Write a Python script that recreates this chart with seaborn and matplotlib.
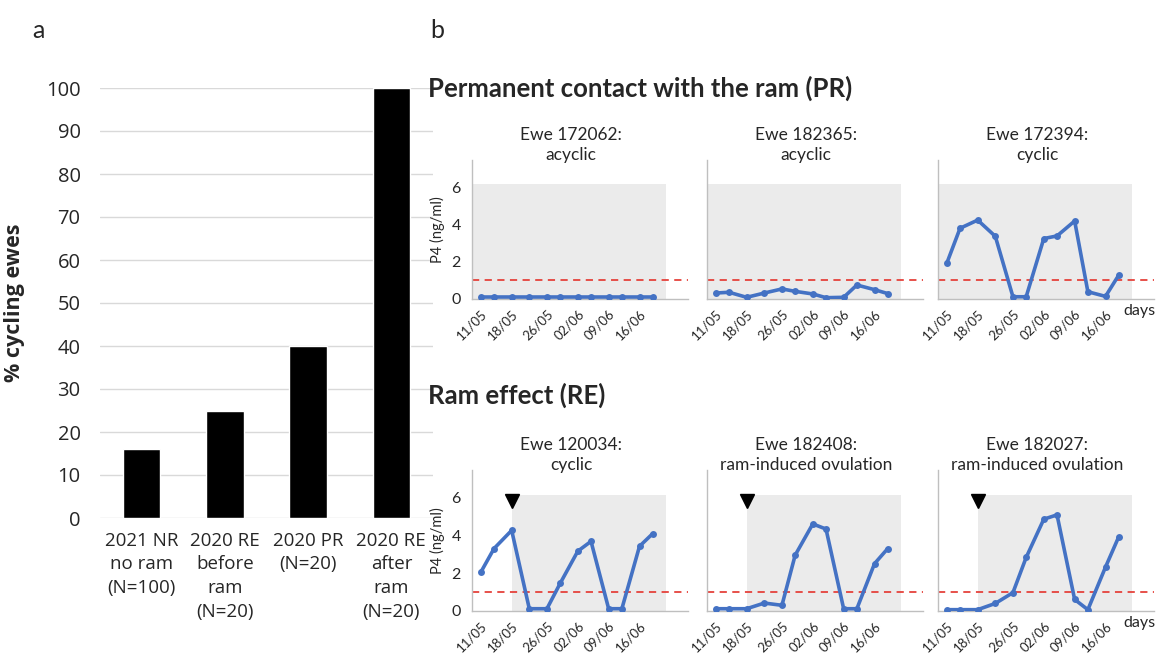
import pandas as pd
import matplotlib.pyplot as plt
import matplotlib.dates as mdates
import seaborn as sns

# ---------------- panel a data ----------------
groups = ["2021 NR\nno ram\n(N=100)", "2020 RE\nbefore\nram\n(N=20)",
          "2020 PR\n(N=20)", "2020 RE\nafter\nram\n(N=20)"]
pct_cycling = [16, 25, 40, 100]

# ---------------- panel b data ----------------
sample_dates = ["2020-05-11", "2020-05-14", "2020-05-18", "2020-05-22",
                "2020-05-26", "2020-05-29", "2020-06-02", "2020-06-05",
                "2020-06-09", "2020-06-12", "2020-06-16", "2020-06-19"]
tick_dates = ["2020-05-11", "2020-05-18", "2020-05-26",
              "2020-06-02", "2020-06-09", "2020-06-16"]

ewe_ids = ["172062", "182365", "172394", "120034", "182408", "182027"]
ewe_status = ["acyclic", "acyclic", "cyclic",
              "cyclic", "ram-induced ovulation", "ram-induced ovulation"]

p4_172062 = [0.10, 0.10, 0.10, 0.10, 0.10, 0.10, 0.10, 0.10, 0.10, 0.10, 0.10, 0.10]
p4_182365 = [0.32, 0.36, 0.09, 0.32, 0.54, 0.41, 0.27, 0.07, 0.09, 0.75, 0.50, 0.29]
p4_172394 = [1.92, 3.79, 4.23, 3.36, 0.12, 0.12, 3.24, 3.38, 4.18, 0.39, 0.14, 1.28]
p4_120034 = [2.05, 3.30, 4.26, 0.12, 0.12, 1.46, 3.16, 3.68, 0.12, 0.12, 3.42, 4.09]
p4_182408 = [0.12, 0.12, 0.12, 0.42, 0.30, 2.95, 4.60, 4.33, 0.12, 0.12, 2.50, 3.30]
p4_182027 = [0.07, 0.07, 0.07, 0.40, 0.97, 2.83, 4.85, 5.08, 0.61, 0.07, 2.32, 3.92]
p4_series = [p4_172062, p4_182365, p4_172394, p4_120034, p4_182408, p4_182027]

threshold = 1.0          # cyclicity threshold, ng/ml
shade_top = 6.15
study_start = "2020-05-09"
ram_intro = "2020-05-18"
study_end = "2020-06-22"
axis_end = "2020-06-27"

sns.set_style("white")
plt.rcParams["font.family"] = ["Lato", "DejaVu Sans"]
sans_a = ["Open Sans", "DejaVu Sans"]

W, H = 1157, 655
fig = plt.figure(figsize=(W / 100, H / 100), dpi=100)


def px_axes(left, top, right, bottom):
    return fig.add_axes([left / W, 1 - bottom / H, (right - left) / W, (bottom - top) / H])


# =====================================================================
# Panel a: % cycling ewes
# =====================================================================
ax = px_axes(100, 88, 433, 518)
sns.barplot(x=groups, y=pct_cycling, color="black", saturation=1, width=0.45, ax=ax)
ax.set_ylim(0, 100)
ax.set_yticks(range(0, 101, 10))
ax.grid(axis="y", color="#d9d9d9", lw=1)
ax.set_axisbelow(True)
sns.despine(ax=ax, left=True, bottom=True)
ax.tick_params(axis="y", length=0, labelsize=14.5, pad=14)
ax.tick_params(axis="x", length=0, labelsize=13.5, pad=10)
for lab in ax.get_xticklabels() + ax.get_yticklabels():
    lab.set_fontfamily(sans_a)
for lab in ax.get_xticklabels():
    lab.set_linespacing(1.4)
ax.set_ylabel("% cycling ewes", fontweight="bold", fontsize=15.5, fontfamily=sans_a)
ax.yaxis.set_label_coords(-0.225, 0.5)

# =====================================================================
# Panel b: P4 profiles
# =====================================================================
col_left = [472, 707, 938]
rows = [(160, 299), (470, 611)]
panel_w = 216
x_dates = pd.to_datetime(sample_dates)

for i, (eid, status, vals) in enumerate(zip(ewe_ids, ewe_status, p4_series)):
    r, c = divmod(i, 3)
    top, bottom = rows[r]
    ax = px_axes(col_left[c], top, col_left[c] + panel_w, bottom)
    ax.set_facecolor("none")

    shade_from = study_start if r == 0 else ram_intro
    ax.fill_between(pd.to_datetime([shade_from, study_end]), 0, shade_top,
                    color="#ebebeb", lw=0, zorder=0)
    ax.axhline(threshold, color="#e5423b", lw=1.3, ls=(0, (4, 3)), zorder=1)

    df = pd.DataFrame({"date": x_dates, "p4": vals})
    sns.lineplot(data=df, x="date", y="p4", ax=ax, color="#4472C4", lw=2.6,
                 marker="o", markersize=5, markeredgewidth=0, zorder=3)
    if r == 1:
        ax.plot(pd.to_datetime([ram_intro]), [shade_top - 0.35], marker="v",
                color="black", markersize=10, ls="none", zorder=4)

    ax.set_xlim(pd.Timestamp(study_start), pd.Timestamp(axis_end))
    ax.set_ylim(0, 7.45)
    ax.set_yticks([0, 2, 4, 6])
    ax.set_xticks(pd.to_datetime(tick_dates))
    ax.xaxis.set_major_formatter(mdates.DateFormatter("%d/%m"))
    plt.setp(ax.get_xticklabels(), rotation=45, ha="right", rotation_mode="anchor")

    sns.despine(ax=ax)
    for s in ["left", "bottom"]:
        ax.spines[s].set_color("#bfbfbf")
        ax.spines[s].set_linewidth(1)
    ax.tick_params(axis="x", color="#bfbfbf", length=5, width=1, labelsize=9.5, pad=1)
    ax.tick_params(axis="y", color="#bfbfbf", length=4, width=1, labelsize=11.5, pad=4)
    ax.set_xlabel("")
    if c == 0:
        ax.set_ylabel("P4 (ng/ml)", fontsize=10.5, labelpad=5)
    else:
        ax.set_ylabel("")
        ax.tick_params(axis="y", labelleft=False)
    if c == 2:
        ax.text((W - 2 - col_left[c]) / panel_w, -0.085, "days", transform=ax.transAxes,
                ha="right", va="center", fontsize=11.5)

    ax.text(0.46, 0.98, f"Ewe {eid}:\n{status}", transform=ax.transAxes,
            ha="center", va="bottom", fontsize=12.5, linespacing=1.3)

fig.text(428 / W, 1 - 88 / H, "Permanent contact with the ram (PR)",
         fontsize=18.5, fontweight="bold", va="center", ha="left")
fig.text(428 / W, 1 - 395 / H, "Ram effect (RE)",
         fontsize=18.5, fontweight="bold", va="center", ha="left")
fig.text(38 / W, 1 - 30 / H, "a", fontsize=18, ha="center", va="center")
fig.text(437 / W, 1 - 30 / H, "b", fontsize=18, ha="center", va="center")

fig.savefig("out.png", dpi=100)
